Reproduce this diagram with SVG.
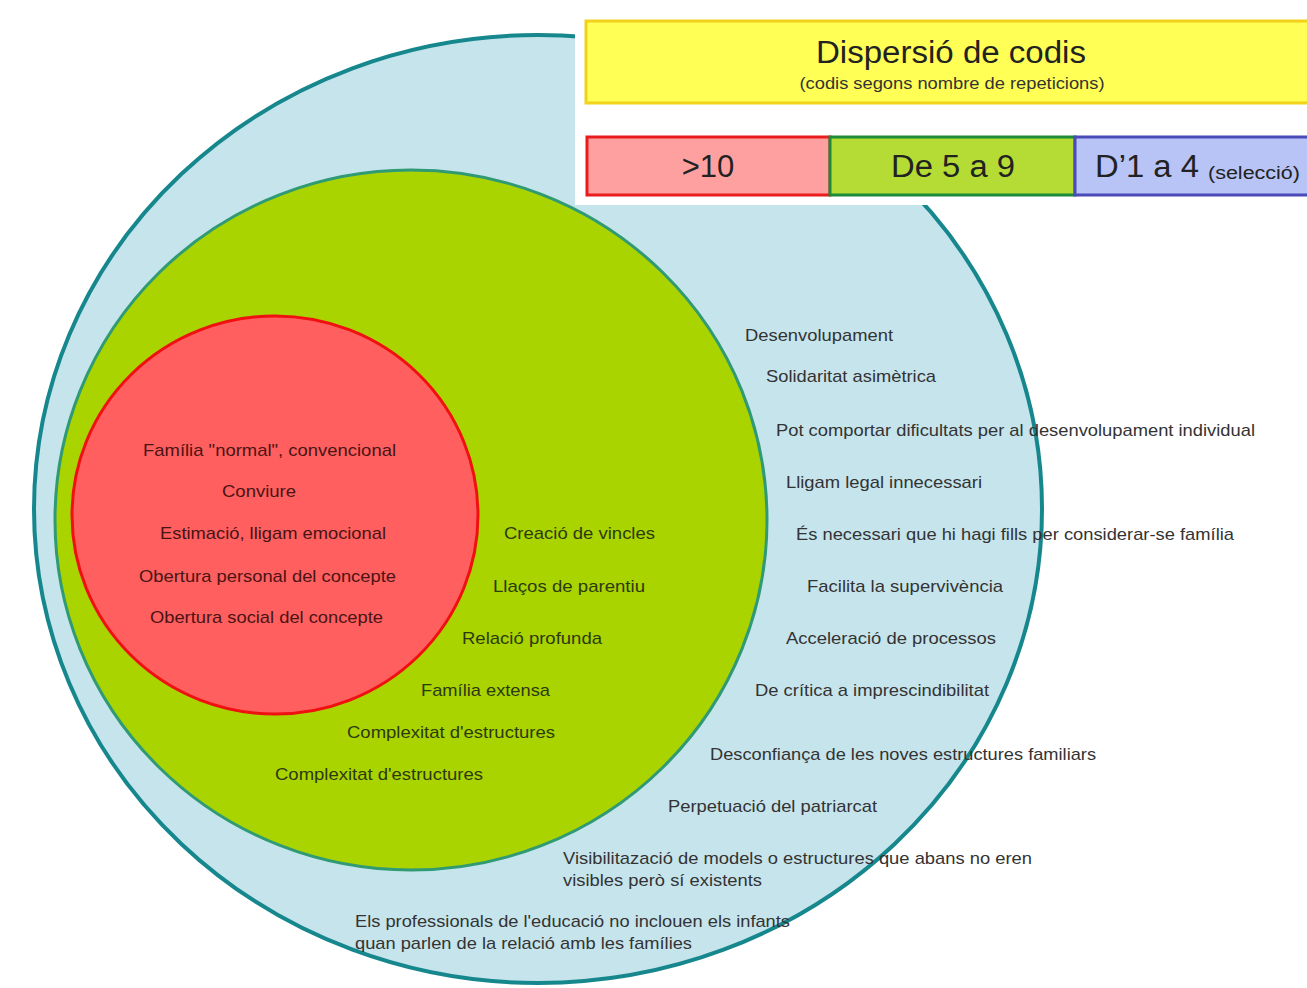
<svg xmlns="http://www.w3.org/2000/svg" width="1307" height="988" viewBox="0 0 1307 988">
<style>
text{font-family:"Liberation Sans",Arial,sans-serif;}
.t{font-size:17px;fill:#333;}
.tr{font-size:17px;fill:#4a1414;}
.tg{font-size:17px;fill:#2c3a10;}
.big{font-size:31px;fill:#222;}
.mid{font-size:16px;fill:#333;}
</style>
<rect width="1307" height="988" fill="#ffffff"/>
<g id="outer">
<ellipse cx="538" cy="509" rx="504" ry="474" fill="#c6e4ec" stroke="#16878d" stroke-width="4"/>
</g>
<g id="middle">
<ellipse cx="411" cy="520" rx="356" ry="350" fill="#a9d400" stroke="#2f9a74" stroke-width="3"/>
</g>
<g id="inner">
<ellipse cx="275" cy="515" rx="203" ry="199" fill="#ff5f5f" stroke="#f01010" stroke-width="3"/>
</g>
<rect x="575" y="0" width="732" height="205" fill="#ffffff"/>
<g id="connectors"></g>
<g id="legend">
<rect x="586" y="21" width="730" height="82" fill="#ffff55" stroke="#f2d21a" stroke-width="3"/>
<text class="big" x="951" y="63" text-anchor="middle" textLength="270" lengthAdjust="spacingAndGlyphs">Dispersió de codis</text>
<text class="mid" x="952" y="89" text-anchor="middle" textLength="305" lengthAdjust="spacingAndGlyphs">(codis segons nombre de repeticions)</text>
<g id="leg-red"><rect x="587" y="137" width="243" height="58" fill="#ffa0a0" stroke="#e81c1c" stroke-width="3"/>
<text class="big" x="708" y="177" text-anchor="middle">&gt;10</text></g>
<g id="leg-green"><rect x="830" y="137" width="245" height="58" fill="#b4dc34" stroke="#1c8a36" stroke-width="3"/>
<text class="big" x="953" y="177" text-anchor="middle" textLength="124" lengthAdjust="spacingAndGlyphs">De 5 a 9</text></g>
<g id="leg-blue"><rect x="1075" y="137" width="245" height="58" fill="#b8c4f6" stroke="#4a4ab8" stroke-width="3"/>
<text class="big" x="1095" y="177" textLength="104" lengthAdjust="spacingAndGlyphs">D’1 a 4</text>
<text x="1208" y="179" style="font-size:18px;fill:#222" textLength="92" lengthAdjust="spacingAndGlyphs">(selecció)</text></g>
</g>
<g id="red-texts">
<text class="tr" x="143" y="456" textLength="253" lengthAdjust="spacingAndGlyphs">Família "normal", convencional</text>
<text class="tr" x="222" y="497" textLength="74" lengthAdjust="spacingAndGlyphs">Conviure</text>
<text class="tr" x="160" y="539" textLength="226" lengthAdjust="spacingAndGlyphs">Estimació, lligam emocional</text>
<text class="tr" x="139" y="582" textLength="257" lengthAdjust="spacingAndGlyphs">Obertura personal del concepte</text>
<text class="tr" x="150" y="623" textLength="233" lengthAdjust="spacingAndGlyphs">Obertura social del concepte</text>
</g>
<g id="green-texts">
<text class="tg" x="504" y="539" textLength="151" lengthAdjust="spacingAndGlyphs">Creació de vincles</text>
<text class="tg" x="493" y="592" textLength="152" lengthAdjust="spacingAndGlyphs">Llaços de parentiu</text>
<text class="tg" x="462" y="644" textLength="140" lengthAdjust="spacingAndGlyphs">Relació profunda</text>
<text class="tg" x="421" y="696" textLength="129" lengthAdjust="spacingAndGlyphs">Família extensa</text>
<text class="tg" x="347" y="738" textLength="208" lengthAdjust="spacingAndGlyphs">Complexitat d'estructures</text>
<text class="tg" x="275" y="780" textLength="208" lengthAdjust="spacingAndGlyphs">Complexitat d'estructures</text>
</g>
<g id="blue-texts">
<text class="t" x="745" y="341" textLength="148" lengthAdjust="spacingAndGlyphs">Desenvolupament</text>
<text class="t" x="766" y="382" textLength="170" lengthAdjust="spacingAndGlyphs">Solidaritat asimètrica</text>
<text class="t" x="776" y="436" textLength="479" lengthAdjust="spacingAndGlyphs">Pot comportar dificultats per al desenvolupament individual</text>
<text class="t" x="786" y="488" textLength="196" lengthAdjust="spacingAndGlyphs">Lligam legal innecessari</text>
<text class="t" x="796" y="540" textLength="438" lengthAdjust="spacingAndGlyphs">És necessari que hi hagi fills per considerar-se família</text>
<text class="t" x="807" y="592" textLength="196" lengthAdjust="spacingAndGlyphs">Facilita la supervivència</text>
<text class="t" x="786" y="644" textLength="210" lengthAdjust="spacingAndGlyphs">Acceleració de processos</text>
<text class="t" x="755" y="696" textLength="234" lengthAdjust="spacingAndGlyphs">De crítica a imprescindibilitat</text>
<text class="t" x="710" y="760" textLength="386" lengthAdjust="spacingAndGlyphs">Desconfiança de les noves estructures familiars</text>
<text class="t" x="668" y="812" textLength="209" lengthAdjust="spacingAndGlyphs">Perpetuació del patriarcat</text>
<text class="t" x="563" y="864" textLength="469" lengthAdjust="spacingAndGlyphs">Visibilitazació de models o estructures que abans no eren</text>
<text class="t" x="563" y="886" textLength="199" lengthAdjust="spacingAndGlyphs">visibles però sí existents</text>
<text class="t" x="355" y="927" textLength="435" lengthAdjust="spacingAndGlyphs">Els professionals de l'educació no inclouen els infants</text>
<text class="t" x="355" y="949" textLength="337" lengthAdjust="spacingAndGlyphs">quan parlen de la relació amb les famílies</text>
</g>
</svg>
